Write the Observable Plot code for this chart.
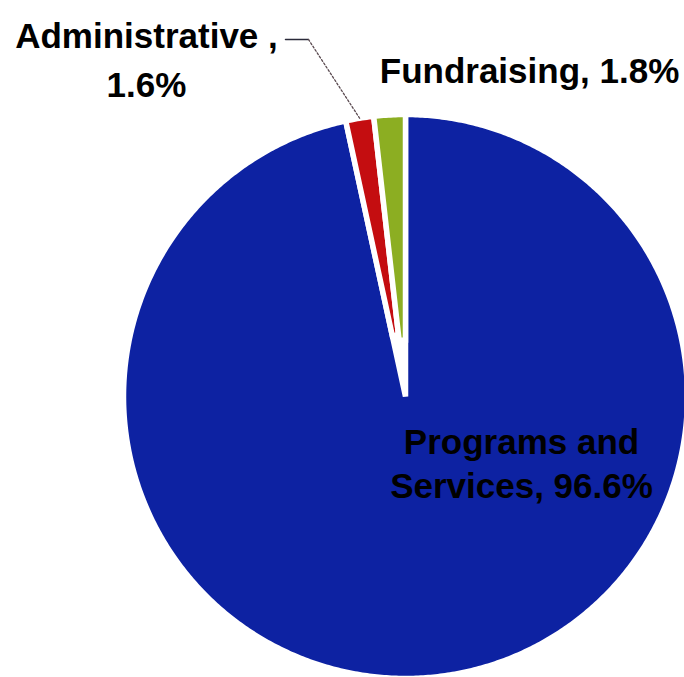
<!DOCTYPE html>
<html>
<head>
<meta charset="utf-8">
<script src="https://cdn.jsdelivr.net/npm/d3@7"></script>
<script src="https://cdn.jsdelivr.net/npm/@observablehq/plot@0.6"></script>
<style>
  html, body { margin: 0; padding: 0; background: #ffffff; }
  #chart svg { display: block; }
</style>
</head>
<body>
<div id="chart"></div>
<script>
// ---- data ----
const categories = ["Programs and Services", "Administrative", "Fundraising"];
const values = [96.6, 1.6, 1.8];
const labelTexts = ["Programs and\nServices, 96.6%", "Administrative ,\n1.6%", "Fundraising, 1.8%"];
const palette = ["#0d22a2", "#c40d10", "#8cae22"];

// ---- layout ----
const W = 684, H = 677;
const cx = 405, cy = 396, R = 282;
const innerCut = [0, 0.22, 0.2];          // small slices are drawn pulled off the centre
const labelLayout = [
  {x: 521, y: 422, lineHeight: 1.26},
  {x: 146, y: 13, lineHeight: 1.4},
  {x: 529, y: 53, lineHeight: 1.2}
];

const slices = d3.pie().sort(null).value(d => d.value)(
  categories.map((c, i) => ({name: c, value: values[i]}))
);
const px = (a, r) => cx + r * Math.sin(a);
const py = (a, r) => cy - r * Math.cos(a);

const ringPoints = [];
slices.forEach((s, i) => {
  const name = categories[i];
  const r0 = innerCut[i] * R;
  const n = Math.max(4, Math.ceil((s.endAngle - s.startAngle) / (Math.PI / 360)));
  const outer = d3.range(n + 1).map(k => s.startAngle + (s.endAngle - s.startAngle) * k / n);
  outer.forEach(a => ringPoints.push({name, x: px(a, R), y: py(a, R)}));
  if (r0 > 0) {
    outer.slice().reverse().forEach(a => ringPoints.push({name, x: px(a, r0), y: py(a, r0)}));
  } else {
    ringPoints.push({name, x: cx, y: cy});
  }
});

const labels = labelTexts.map((t, i) => ({text: t, ...labelLayout[i]}));

// leader line for the Administrative label
const adm = slices[1];
const admMid = (adm.startAngle + adm.endAngle) / 2;
const leaderH = [{x: 285, y: 39}, {x: 308, y: 39}];
const leaderD = [{x: 308, y: 39}, {x: px(admMid, R), y: py(admMid, R)}];

const chart = Plot.plot({
  width: W,
  height: H,
  margin: 0,
  style: {background: "#ffffff", overflow: "visible"},
  x: {domain: [0, W], range: [0, W], axis: null},
  y: {domain: [0, H], range: [0, H], axis: null},
  color: {domain: categories, range: palette},
  marks: [
    Plot.line(ringPoints, {
      x: "x", y: "y", z: "name", fill: "name",
      stroke: "white", strokeWidth: 5.5, curve: "linear-closed",
      strokeLinejoin: "miter", strokeMiterlimit: 2
    }),
    Plot.line(leaderH, {x: "x", y: "y", stroke: "#2a2a3a", strokeWidth: 1.5}),
    Plot.line(leaderD, {x: "x", y: "y", stroke: "#5a4a50", strokeWidth: 1.3, strokeDasharray: "2,2"}),
    ...labels.map(l => Plot.text([l], {
      x: "x", y: "y", text: "text",
      lineAnchor: "top", lineHeight: l.lineHeight,
      textAnchor: "middle",
      fontFamily: "Liberation Sans, Arial, sans-serif",
      fontWeight: "bold", fontSize: 35, fill: "#000000"
    }))
  ]
});
document.getElementById("chart").appendChild(chart);
</script>
</body>
</html>
